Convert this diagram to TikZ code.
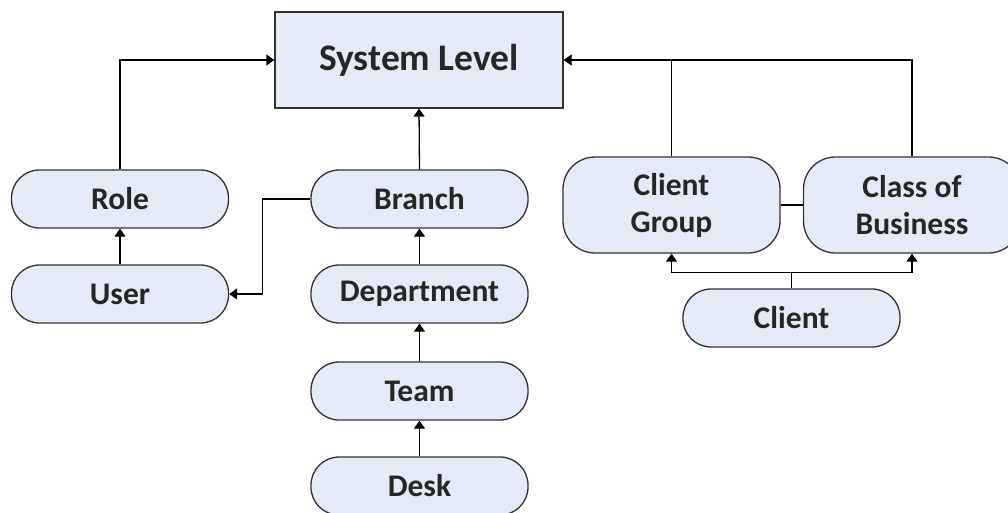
\documentclass[tikz,border=0pt]{standalone}
\usepackage{fontspec}
\setmainfont{Carlito}
\usetikzlibrary{arrows.meta}
\definecolor{boxfill}{RGB}{228,235,246}
\definecolor{edge}{RGB}{50,50,50}
\begin{document}
\begin{tikzpicture}[x=1pt,y=-1pt,
  box/.style={draw=edge, fill=boxfill, line width=1.3pt, inner sep=0pt, align=center,
    font=\bfseries\fontsize{31.5}{37}\selectfont, text=black!85},
  pill/.style={box, rounded corners=28pt, minimum width=217pt, minimum height=58pt},
  tall/.style={box, rounded corners=32pt, minimum width=217pt, minimum height=96pt},
  conn/.style={draw=black, line width=1.3pt},
  arr/.style={conn, -{Triangle[length=8pt,width=11pt]}}
]
\useasboundingbox (0,0) rectangle (1008,512);
\node[box, minimum width=288pt, minimum height=96pt, rounded corners=0pt,
  font=\bfseries\fontsize{37.5}{42}\selectfont] (sys) at (419,60) {System Level};
\node[pill] (role) at (120,199) {Role};
\node[pill] (user) at (120,294) {User};
\node[pill] (branch) at (419.5,199) {Branch};
\node[pill] (dept) at (419.5,294) {Department};
\node[pill] (team) at (419.5,391) {Team};
\node[pill] (desk) at (419.5,486) {Desk};
\node[tall] (cg) at (671.5,205) {Client\\Group};
\node[tall] (cob) at (912,205) {Class of\\Business};
\node[pill] (client) at (791.5,318) {Client};

\draw[arr] (role.north) |- (sys.west);
\draw[arr] (user.north) -- (role.south);
\draw[arr] (branch.west) -- ++(-48,0) |- (user.east);
\draw[arr] (branch.north) -- (sys.south);
\draw[arr] (dept.north) -- (branch.south);
\draw[arr] (team.north) -- (dept.south);
\draw[arr] (desk.north) -- (team.south);
\draw[arr] (cob.north) |- (sys.east);
\draw[conn] (cg.north) -- (cg.north |- sys.east);
\draw[conn] (cg.east) -- (cob.west);
\draw[arr] (client.north) -- ++(0,-16) -| (cg.south);
\draw[arr] (client.north) -- ++(0,-16) -| (cob.south);
\end{tikzpicture}
\end{document}
